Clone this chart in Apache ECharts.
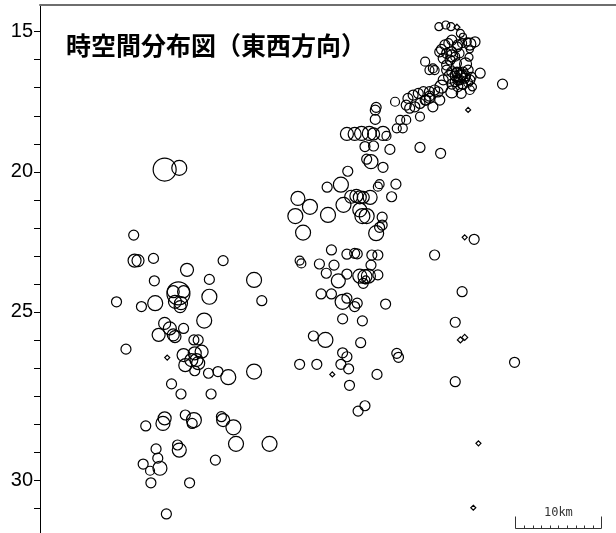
<!DOCTYPE html>
<html>
<head>
<meta charset="utf-8">
<title>時空間分布図（東西方向）</title>
<script src="https://cdn.jsdelivr.net/npm/echarts@6/dist/echarts.min.js"></script>
<style>
  html, body { margin: 0; padding: 0; background: #ffffff; }
  #chart { width: 616px; height: 533px; }
</style>
</head>
<body>
<div id="chart"></div>
<script>
// Each event: [east-west position (km), day, magnitude]
const northEastCluster = [
  [46.4,14.82,1.6],[47.2,14.76,1.6],[47.8,14.82,1.6],[48.5,14.84,1.2],[48.9,15.06,1.6],
  [49.2,15.18,1.4],[49.7,15.36,1.6],[50.6,15.36,2],[50.0,15.63,1.4],[49.9,15.91,1.6],
  [47.5,15.41,1.8],[46.7,15.63,2],[47.3,15.77,2],[47.9,15.71,2],[48.5,15.54,2],
  [49.1,15.41,1.8],[46.9,15.95,2],[47.7,16.01,2],[48.3,15.89,1.8],[48.8,15.77,1.8],
  [47.3,16.19,2],[48.5,16.13,1.8],[44.8,16.07,1.8],[45.7,16.31,1.8],[45.3,16.37,1.8],
  [45.9,16.37,1.8],[47.3,16.37,2],[47.9,16.43,2],[48.5,16.48,2],[49.1,16.55,2],
  [49.4,16.66,2],[48.8,16.72,2],[48.3,16.78,2],[50.0,16.72,2],[50.2,16.61,1.8],
  [51.2,16.48,2],[47.7,16.61,2.6],[49.2,16.90,1.8],[48.6,16.96,2],[49.0,17.20,2],
  [50.0,17.08,1.8],[49.8,16.82,1.8],[53.8,16.87,2],[49.8,17.79,1],[46.7,16.96,2.6],
  [45.9,17.08,2],[45.3,17.14,2],[44.6,17.14,2],[44.0,17.20,2],[43.4,17.26,2],
  [42.8,17.38,2],[42.6,17.62,2],[43.0,17.73,2],[43.6,17.68,2],[44.2,17.56,2],
  [44.8,17.44,2],[45.3,17.38,2],[45.7,17.68,2],[41.3,17.50,1.8],[44.2,18.03,1.8],
  [41.9,18.15,1.8],[42.2,18.45,1.8],[42.6,18.15,1.8],[41.5,18.45,1.8],
  [39.1,17.70,2],[39.0,17.80,2],[39.0,18.13,2],
  [46.9,16.72,2],[47.9,17.15,2.4],[46.5,17.44,2],[49.5,16.15,2.4],[50.3,16.97,1.6],
  [48.5,16.44,2],[48.8,16.58,2.4],[49.2,16.44,2],[48.6,16.72,2],[49.5,16.58,2],
  [49.1,16.87,2],[48.3,16.58,2],[47.9,16.87,2],[49.8,16.37,2],[47.1,15.47,2],
  [47.9,15.30,2],[48.6,15.47,2],[46.5,15.72,2],[47.9,15.86,2.4],[45.3,17.30,2],
  [46.3,17.15,2],[44.9,17.44,2],[50.0,15.44,2.4]
];

const centralCluster = [
  [35.7,18.65,2.6],[36.6,18.65,2.6],[37.4,18.63,2.8],[38.3,18.63,2.8],[38.8,18.65,2.4],
  [39.9,18.63,2.8],[40.3,18.72,1.8],[37.8,19.10,2],[38.8,19.08,2],[40.7,19.20,2],
  [44.2,19.13,2],[46.6,19.34,2],[38.0,19.55,2],[38.5,19.64,2.8],[39.9,19.84,2],
  [35.8,19.98,2],[35.0,20.46,3],[33.4,20.55,2],[36.2,20.89,2.6],[36.8,20.86,2.6],
  [37.2,20.91,2.6],[37.6,20.91,2.4],[38.4,20.91,2.8],[39.5,20.44,1.8],[39.3,20.53,1.8],
  [41.4,20.44,2],[40.9,20.89,2],[30.0,20.95,2.8],[31.4,21.25,3],[29.7,21.58,3],
  [33.5,21.54,3],[35.3,21.18,3],[37.2,21.36,2.8],[38.0,21.58,3],[37.5,21.58,3],
  [39.8,21.62,2],[39.8,21.90,2],[39.5,21.98,2],[39.1,22.19,3],[30.6,22.17,3],
  [33.9,22.79,2],[35.7,22.94,2],[36.6,22.91,2],[36.9,22.93,2],[38.6,22.97,2],
  [39.3,22.97,2],[30.2,23.17,1.8],[30.4,23.27,1.8],[32.5,23.29,2],
  [34.2,23.33,2],[38.5,23.33,2],[33.3,23.62,2],[34.7,23.89,2.8],[35.7,23.65,2],
  [37.2,23.72,2.8],[37.8,23.74,2.8],[38.2,23.72,2.8],[39.3,23.68,2],[37.6,23.98,2],
  [37.9,23.86,1.6],
  [32.7,24.36,2],[33.9,24.36,2],[35.2,24.64,3],[35.7,24.51,2],[36.6,24.81,2],
  [36.9,24.69,2],[40.2,24.72,2],[35.2,25.25,2],[37.5,25.32,2],
  [31.8,25.86,2],[33.2,26.00,3],[37.3,26.10,2],[35.2,26.46,2],[35.7,26.60,2],
  [41.5,26.48,2],[41.7,26.62,2],[30.2,26.87,2],[32.2,26.87,2],[35.0,26.87,2],
  [35.9,27.03,2],[34.0,27.23,1],[39.2,27.23,2],[36.0,27.62,2],[37.8,28.35,2],[37.0,28.54,2]
];

const easternScattered = [
  [45.9,22.97,2],[49.4,22.34,1],[50.5,22.41,2],[49.1,24.28,2],[48.3,25.37,2],
  [48.9,26.00,1.2],[49.4,25.91,1.2],[55.2,26.80,2],[48.3,27.49,2],[51.0,29.69,1],[50.4,31.99,1]
];

const westernCluster = [
  [14.5,19.92,4.6],[16.2,19.86,3],
  [10.9,22.26,2],[11.0,23.17,2.6],[11.4,23.17,2.4],[13.2,23.09,2],[17.1,23.50,2.6],
  [21.3,23.17,2],[24.9,23.86,3],[13.3,23.89,2],[19.7,23.84,2],[16.1,24.34,4.6],
  [15.5,24.28,2.4],[16.7,24.28,2.4],[15.7,24.64,2.6],[16.4,24.69,2.6],[16.3,24.81,2.4],
  [19.7,24.46,3],[13.4,24.69,3],[11.8,24.81,2],[8.9,24.64,2],[25.8,24.60,2],
  [19.1,25.31,3],[14.5,25.41,2.4],[15.1,25.59,2.6],[13.8,25.82,2.6],[15.5,25.82,2.4],
  [15.7,25.88,2.4],[16.7,25.59,2],[10.0,26.33,2],[14.8,26.63,1],[17.9,26.00,2],
  [18.4,26.00,2],[16.7,26.54,2.6],[18.0,26.48,2.6],[18.8,26.42,2.6],[17.6,26.72,2.6],
  [18.2,26.72,2.6],[18.4,26.83,2.6],[16.9,26.90,2.6],[18.0,27.10,2],[19.6,27.19,2],
  [20.7,27.13,2],[21.9,27.33,3],[24.9,27.13,3],[15.3,27.57,2],[16.4,27.93,2],[19.9,27.93,2],
  [12.3,29.07,2],[14.5,28.80,2.6],[14.3,28.98,2.8],[16.9,28.68,2],[17.9,28.86,3],
  [17.7,28.98,2],[21.1,28.74,2],[21.3,28.86,2.6],[22.5,29.12,3],[22.8,29.71,3],
  [26.7,29.71,3],[16.0,29.75,2],[16.2,29.93,2.8],[13.5,29.89,2],[13.7,30.22,2],
  [13.95,30.58,2.8],[12.0,30.43,2],[12.8,30.67,1.8],[12.9,31.10,2],[17.4,31.10,2],
  [20.4,30.29,2],[14.7,32.21,2]
];

// Day-axis tick labels and where they sit on the axis
const dayTickPos = [15, 20, 25, 31];
const dayTickText = ['15', '20', '25', '30'];
const dayMinorTicks = [15,16,17,18,19,20,21,22,23,24,25,26,27,28,29,30,31,32];

// Scale bar
const scaleBarKm = 10;
const scaleBarText = '10km';

const titleText = '時空間分布図（東西方向）';

const events = [].concat(northEastCluster, centralCluster, easternScattered, westernCluster);

const chart = echarts.init(document.getElementById('chart'), null, { renderer: 'canvas' });

chart.setOption({
  animation: false,
  backgroundColor: '#ffffff',
  title: {
    text: titleText,
    left: 66,
    top: 33,
    padding: 0,
    textStyle: {
      fontFamily: '"Noto Sans CJK JP", sans-serif',
      fontWeight: 'bold',
      fontSize: 25,
      color: '#000000'
    }
  },
  grid: {
    left: 40,
    right: 0,
    top: 5,
    bottom: 0,
    containLabel: false,
    outerBoundsMode: 'none'
  },
  xAxis: {
    type: 'value',
    position: 'top',
    min: 0,
    max: 67,
    axisLine: { show: true, onZero: false, lineStyle: { color: '#6e6e6e', width: 2 } },
    axisTick: { show: false },
    axisLabel: { show: false },
    splitLine: { show: false }
  },
  yAxis: {
    type: 'value',
    inverse: true,
    min: 14.047,
    max: 32.891,
    axisLine: { show: true, onZero: false, lineStyle: { color: '#000000', width: 1 } },
    axisTick: {
      show: true,
      customValues: dayMinorTicks,
      length: 6,
      lineStyle: { color: '#000000', width: 1 }
    },
    axisLabel: {
      customValues: dayTickPos,
      formatter: function (v) {
        const i = dayTickPos.indexOf(v);
        return i >= 0 ? dayTickText[i] : '';
      },
      margin: 7,
      fontSize: 20,
      fontFamily: '"Liberation Sans", Arial, sans-serif',
      color: '#000000'
    },
    splitLine: { show: false }
  },
  series: [
    {
      type: 'scatter',
      silent: true,
      data: events,
      symbol: function (val) { return val[2] <= 1.2 ? 'diamond' : 'circle'; },
      symbolSize: function (val) { return val[2] * 5; },
      itemStyle: {
        color: 'rgba(0,0,0,0)',
        borderColor: '#000000',
        borderWidth: 1.2,
        opacity: 1
      },
      emphasis: { disabled: true }
    },
    {
      // Distance scale bar drawn in axis units
      type: 'custom',
      silent: true,
      clip: false,
      data: [[55.3, 32.72]],
      renderItem: function (params, api) {
        const p0 = api.coord([api.value(0), api.value(1)]);
        const p1 = api.coord([api.value(0) + scaleBarKm, api.value(1)]);
        const unit = (p1[0] - p0[0]) / scaleBarKm;
        const y = Math.round(p0[1]) + 0.5;
        const stroke = { stroke: '#333333', lineWidth: 1 };
        const children = [{
          type: 'line',
          shape: { x1: p0[0], y1: y, x2: p1[0], y2: y },
          style: stroke
        }];
        for (let k = 0; k <= scaleBarKm; k++) {
          const h = (k === 0 || k === scaleBarKm) ? 12 : 3;
          const x = Math.round(p0[0] + k * unit) + 0.5;
          children.push({
            type: 'line',
            shape: { x1: x, y1: y, x2: x, y2: y - h },
            style: stroke
          });
        }
        children.push({
          type: 'text',
          style: {
            text: scaleBarText,
            x: (p0[0] + p1[0]) / 2,
            y: y - 10,
            align: 'center',
            verticalAlign: 'bottom',
            font: '12px "DejaVu Sans Mono", monospace',
            fill: '#333333'
          }
        });
        return { type: 'group', children: children };
      }
    }
  ]
});
</script>
</body>
</html>
